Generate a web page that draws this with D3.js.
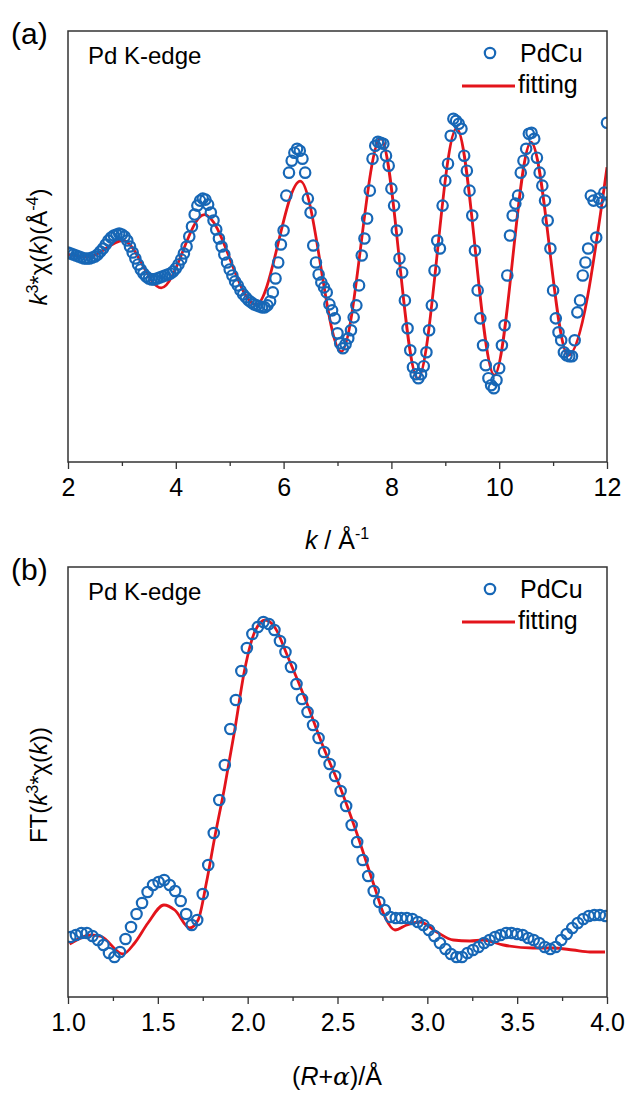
<!DOCTYPE html>
<html>
<head>
<meta charset="utf-8">
<script src="https://cdn.jsdelivr.net/npm/d3@7"></script>
<style>
body { margin: 0; background: #fff; }
text { font-family: "Liberation Sans", Arial, sans-serif; fill: #000; }
</style>
</head>
<body>
<div class="chart"></div>
<script>
// ---------------- data ----------------
// (a) k-space, k = 2.00 ... 12.00 every 0.05 A^-1
var kStart = 2, kStep = 0.05;
var kChi = [
  -0.12, -0.14, -0.16, -0.18, -0.20, -0.22, -0.24, -0.24, -0.24, -0.22,
  -0.20, -0.16, -0.10, -0.04, 0.04, 0.12, 0.18, 0.22, 0.24, 0.26,
  0.24, 0.20, 0.12, 0, -0.12, -0.24, -0.36, -0.46, -0.54, -0.60,
  -0.64, -0.66, -0.66, -0.64, -0.62, -0.60, -0.58, -0.56, -0.54, -0.50,
  -0.44, -0.36, -0.26, -0.14, 0, 0.20, 0.40, 0.64, 0.82, 0.92,
  0.96, 0.94, 0.84, 0.68, 0.52, 0.34, 0.16, 0, -0.16, -0.32,
  -0.46, -0.58, -0.70, -0.78, -0.88, -0.96, -1.02, -1.08, -1.12, -1.16,
  -1.18, -1.20, -1.22, -1.22, -1.18, -1.10, -0.92, -0.64, -0.32, 0.04,
  0.32, 1.02, 1.48, 1.72, 1.88, 1.96, 1.92, 1.76, 1.48, 0.96,
  0.68, 0.02, -0.32, -0.56, -0.72, -0.82, -0.92, -1.16, -1.28, -1.44,
  -1.74, -1.94, -2.04, -1.96, -1.84, -1.68, -1.42, -1.18, -0.78, -0.18,
  0.16, 0.56, 1.12, 1.76, 2.02, 2.10, 2.08, 2.06, 1.82, 1.62,
  1.16, 0.82, 0.32, -0.24, -0.52, -1.08, -1.64, -2.08, -2.42, -2.56,
  -2.64, -2.56, -2.40, -2.12, -1.68, -1.18, -0.48, 0.12, -0.04, 0.82,
  1.32, 1.66, 2.22, 2.56, 2.52, 2.46, 2.36, 1.82, 1.52, 1.12,
  0.62, -0.08, -0.88, -1.44, -1.98, -2.38, -2.64, -2.78, -2.84, -2.68,
  -2.44, -1.98, -1.58, -0.58, 0.22, 0.62, 0.86, 1.02, 1.48, 1.72,
  1.96, 2.26, 2.28, 2.16, 1.78, 1.48, 1.22, 0.92, 0.52, -0.04,
  -0.88, -1.44, -1.72, -1.88, -2.12, -2.18, -2.20, -2.20, -1.88, -1.32,
  -1.08, -0.58, -0.32, -0.04, 1.02, 0.92, 0.18, 0.96, 0.88, 1.08,
  2.48
];
var kFitK = [2.00, 2.37, 3.02, 3.73, 4.53, 5.49, 6.31, 7.07, 7.80, 8.49, 9.21, 9.91, 10.59, 11.28, 12.00];
var kFitChi = [-0.16, -0.21, 0.12, -0.83, 0.64, -1.17, 1.31, -2.11, 2.17, -2.65, 2.37, -2.58, 2.09, -2.18, 1.59];

// (b) R-space, R grid step 0.0307 A
var rStart = 1.0131, rStep = 0.0307;
var ftMag = [
  1.20, 1.24, 1.28, 1.28, 1.22, 1.14, 1.04, 0.88, 0.80, 0.90,
  1.16, 1.40, 1.66, 1.88, 2.10, 2.24, 2.30, 2.34, 2.24, 2.12,
  1.92, 1.66, 1.44, 1.54, 2.06, 2.64, 3.28, 3.94, 4.64, 5.36,
  5.94, 6.52, 6.98, 7.26, 7.40, 7.50, 7.46, 7.34, 7.12, 6.90,
  6.60, 6.26, 5.96, 5.70, 5.44, 5.18, 4.90, 4.66, 4.42, 4.12,
  3.82, 3.44, 3.10, 2.74, 2.42, 2.12, 1.90, 1.74, 1.60, 1.58,
  1.58, 1.58, 1.56, 1.50, 1.44, 1.34, 1.22, 1.08, 0.96, 0.86,
  0.80, 0.80, 0.88, 0.94, 1.00, 1.08, 1.14, 1.20, 1.24, 1.28,
  1.28, 1.26, 1.24, 1.18, 1.14, 1.08, 1.00, 0.96, 1.00, 1.14,
  1.26, 1.38, 1.48, 1.56, 1.62, 1.64, 1.64, 1.62
];
var rFitR = [1.009, 1.13, 1.185, 1.306, 1.371, 1.445, 1.534, 1.594, 1.677, 1.724, 1.770, 1.817,
  1.872, 1.928, 1.983, 2.039, 2.098, 2.150, 2.224, 2.329, 2.421, 2.514, 2.607, 2.699, 2.764,
  2.820, 2.885, 2.959, 3.052, 3.144, 3.237, 3.311, 3.423, 3.588, 3.699, 3.811, 3.905, 3.989];
var rFitMag = [1.06, 1.24, 1.21, 0.86, 1.08, 1.48, 1.84, 1.74, 1.38, 1.54, 2.28, 3.20,
  4.20, 5.34, 6.54, 7.30, 7.54, 7.40, 6.80, 5.88, 5.00, 4.20, 3.28, 2.28, 1.60,
  1.34, 1.44, 1.50, 1.30, 1.14, 1.12, 1.14, 1.04, 0.98, 0.98, 0.94, 0.90, 0.90];

var kMajor = [2, 4, 6, 8, 10, 12];
var kMinor = [3, 5, 7, 9, 11];
var rMajor = [1.0, 1.5, 2.0, 2.5, 3.0, 3.5, 4.0];
var rMinor = [1.25, 1.75, 2.25, 2.75, 3.25, 3.75];

// ---------------- layout ----------------
var svgWidth = 625;
var svgHeight = 1093;
var left = 68, right = 607;
var blue = "#1767b6";
var red = "#e3141b";
var markR = 5.2;
var fontFamily = '"Liberation Sans", Arial, sans-serif';

var svg = d3.select(".chart")
    .append("svg")
    .attr("width", svgWidth)
    .attr("height", svgHeight);

function drawPanel(p) {
    var x = d3.scaleLinear().domain(p.xDomain).range([left, right]);
    var y = d3.scaleLinear().domain(p.yDomain).range([p.bottom, p.top]);

    svg.append("clipPath")
        .attr("id", "clip-" + p.name)
        .append("rect")
        .attr("x", left)
        .attr("y", p.top)
        .attr("width", right - left)
        .attr("height", p.bottom - p.top);

    var g = svg.append("g");

    // minor ticks
    g.append("g")
        .attr("transform", `translate(0, ${p.bottom})`)
        .attr("color", "#333")
        .call(d3.axisBottom(x).tickValues(p.minor).tickSize(4).tickFormat(""))
        .call(a => a.select(".domain").remove())
        .selectAll("line").attr("stroke-width", 1.3);

    // major ticks + labels
    var ax = g.append("g")
        .attr("transform", `translate(0, ${p.bottom})`)
        .attr("color", "#333")
        .call(d3.axisBottom(x).tickValues(p.major).tickSize(7).tickPadding(9).tickFormat(p.fmt));
    ax.select(".domain").remove();
    ax.selectAll("line").attr("stroke-width", 1.3);
    ax.selectAll("text")
        .attr("font-size", 25)
        .attr("font-family", fontFamily)
        .attr("fill", "#000");

    var plot = g.append("g").attr("clip-path", `url(#clip-${p.name})`);

    plot.append("path")
        .datum(d3.zip(p.fitX, p.fitY))
        .attr("fill", "none")
        .attr("stroke", red)
        .attr("stroke-width", 2.8)
        .attr("d", d3.line()
            .x(d => x(d[0]))
            .y(d => y(d[1]))
            .curve(d3.curveMonotoneX));

    plot.selectAll("circle")
        .data(p.values)
        .enter()
        .append("circle")
        .attr("cx", (d, i) => x(p.x0 + i * p.step))
        .attr("cy", d => y(d))
        .attr("r", markR)
        .attr("fill", "none")
        .attr("stroke", blue)
        .attr("stroke-width", 2.2);

    // frame
    g.append("rect")
        .attr("x", left)
        .attr("y", p.top)
        .attr("width", right - left)
        .attr("height", p.bottom - p.top)
        .attr("fill", "none")
        .attr("stroke", "#333")
        .attr("stroke-width", 1.5);

    // panel letter
    g.append("text")
        .attr("x", 11)
        .attr("y", p.top + 13)
        .attr("font-size", 30)
        .text(p.letter);

    g.append("text")
        .attr("x", 88)
        .attr("y", p.top + 33)
        .attr("font-size", 24)
        .text("Pd K-edge");

    // legend
    g.append("circle")
        .attr("cx", 490)
        .attr("cy", p.top + 22)
        .attr("r", markR)
        .attr("fill", "none")
        .attr("stroke", blue)
        .attr("stroke-width", 2.2);
    g.append("text")
        .attr("x", 520)
        .attr("y", p.top + 31)
        .attr("font-size", 25)
        .text("PdCu");
    g.append("line")
        .attr("x1", 462)
        .attr("x2", 515)
        .attr("y1", p.top + 55)
        .attr("y2", p.top + 55)
        .attr("stroke", red)
        .attr("stroke-width", 2.8);
    g.append("text")
        .attr("x", 518)
        .attr("y", p.top + 62)
        .attr("font-size", 25)
        .text("fitting");

    return g;
}

var gA = drawPanel({
    name: "a", letter: "(a)", top: 31, bottom: 462,
    xDomain: [2, 12], yDomain: [-4.32, 4.32],
    major: kMajor, minor: kMinor, fmt: d3.format("d"),
    values: kChi, x0: kStart, step: kStep,
    fitX: kFitK, fitY: kFitChi
});

var gB = drawPanel({
    name: "b", letter: "(b)", top: 567, bottom: 997,
    xDomain: [1, 4], yDomain: [0, 8.6],
    major: rMajor, minor: rMinor, fmt: d3.format(".1f"),
    values: ftMag, x0: rStart, step: rStep,
    fitX: rFitR, fitY: rFitMag
});

// axis titles
var tA = gA.append("text")
    .attr("x", 337)
    .attr("y", 549)
    .attr("text-anchor", "middle")
    .attr("font-size", 25);
tA.append("tspan").attr("font-style", "italic").text("k");
tA.append("tspan").text(" / Å");
tA.append("tspan").attr("font-size", 16).attr("dy", -10).text("-1");

var yA = gA.append("text")
    .attr("transform", "translate(47, 247) rotate(-90)")
    .attr("text-anchor", "middle")
    .attr("font-size", 24);
yA.append("tspan").attr("font-style", "italic").text("k");
yA.append("tspan").attr("font-size", 16).attr("dy", -9).text("3");
yA.append("tspan").attr("dy", 9).text("*χ(");
yA.append("tspan").attr("font-style", "italic").text("k");
yA.append("tspan").text(")(Å");
yA.append("tspan").attr("font-size", 16).attr("dy", -9).text("-4");
yA.append("tspan").attr("dy", 9).text(")");

var tB = gB.append("text")
    .attr("x", 337)
    .attr("y", 1085)
    .attr("text-anchor", "middle")
    .attr("font-size", 25);
tB.append("tspan").text("(");
tB.append("tspan").attr("font-style", "italic").text("R");
tB.append("tspan").text("+");
tB.append("tspan").attr("font-style", "italic").attr("font-family", '"DejaVu Serif", serif').text("α");
tB.append("tspan").text(")/Å");

var yB = gB.append("text")
    .attr("transform", "translate(47, 785) rotate(-90)")
    .attr("text-anchor", "middle")
    .attr("font-size", 24);
yB.append("tspan").text("FT(");
yB.append("tspan").attr("font-style", "italic").text("k");
yB.append("tspan").attr("font-size", 16).attr("dy", -9).text("3");
yB.append("tspan").attr("dy", 9).text("*χ(");
yB.append("tspan").attr("font-style", "italic").text("k");
yB.append("tspan").text("))");
</script>
</body>
</html>
